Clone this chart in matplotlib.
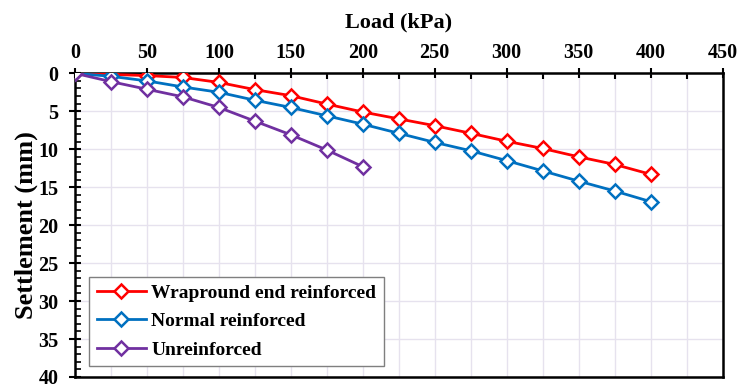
import matplotlib
matplotlib.use('Agg')
import matplotlib.pyplot as plt
from matplotlib.ticker import MultipleLocator

# data
load = [0, 25, 50, 75, 100, 125, 150, 175, 200, 225, 250, 275, 300, 325, 350, 375, 400]
wrap = [0, 0.15, 0.3, 0.55, 1.2, 2.15, 2.95, 4.05, 5.1, 6.0, 6.9, 7.9, 8.95, 9.9, 11.0, 12.0, 13.3]
normal = [0, 0.4, 1.0, 1.8, 2.5, 3.55, 4.5, 5.6, 6.7, 7.9, 9.1, 10.2, 11.5, 12.85, 14.2, 15.5, 16.9]
load_un = [0, 25, 50, 75, 100, 125, 150, 175, 200]
unreinf = [0, 1.1, 2.1, 3.1, 4.5, 6.3, 8.1, 10.1, 12.3]

labels = ['Wrapround end reinforced', 'Normal reinforced', 'Unreinforced']
colors = ['#ff0000', '#0070c0', '#7030a0']

plt.rcParams['font.family'] = ['Liberation Serif', 'DejaVu Serif']
plt.rcParams['font.weight'] = 'bold'

fig = plt.figure(figsize=(7.41, 3.88), dpi=100)
ax = fig.add_axes([75/741, 1 - 377/388, (722.5 - 75)/741, (377 - 73.3)/388])

series = [(load, wrap), (load, normal), (load_un, unreinf)]
for (xs, ys), lab, c in zip(series, labels, colors):
    ax.plot(xs, ys, color=c, lw=2, marker='D', ms=7.5, mfc='white', mec=c,
            mew=1.8, label=lab, zorder=3)

ax.set_xlim(0, 450)
ax.set_ylim(40, 0)
ax.xaxis.set_major_locator(MultipleLocator(50))
ax.xaxis.set_minor_locator(MultipleLocator(25))
ax.yaxis.set_major_locator(MultipleLocator(5))
ax.yaxis.set_minor_locator(MultipleLocator(1))

ax.xaxis.tick_top()
ax.xaxis.set_label_position('top')
ax.tick_params(axis='x', which='major', direction='inout', length=7, width=1.5,
               labelsize=14.5, pad=4)
ax.tick_params(axis='x', which='minor', direction='in', length=4, width=1.5)
ax.tick_params(axis='y', which='major', direction='inout', length=8, width=1.5,
               labelsize=14.5, pad=8)
ax.tick_params(axis='y', which='minor', direction='in', length=4, width=1.2)

for s in ax.spines.values():
    s.set_linewidth(1.8)

ax.grid(True, which='minor', axis='x', color='#e6e2ee', lw=1)
ax.grid(True, which='major', axis='x', color='#e6e2ee', lw=1)
ax.grid(True, which='major', axis='y', color='#e6e2ee', lw=1)
ax.set_axisbelow(True)

ax.set_xlabel('Load (kPa)', fontsize=16, fontweight='bold', labelpad=11)
ax.set_ylabel('Settlement (mm)', fontsize=19, fontweight='bold', labelpad=0)

leg = ax.legend(loc='lower left', bbox_to_anchor=(0.022, 0.035), fontsize=14,
                frameon=True, fancybox=False, handlelength=2.5,
                borderpad=0.4, labelspacing=0.55, handletextpad=0.3,
                borderaxespad=0)
leg.get_frame().set_edgecolor('#7f7f7f')
leg.get_frame().set_linewidth(1)
leg.get_frame().set_alpha(1)

fig.savefig('out.png', dpi=100)
